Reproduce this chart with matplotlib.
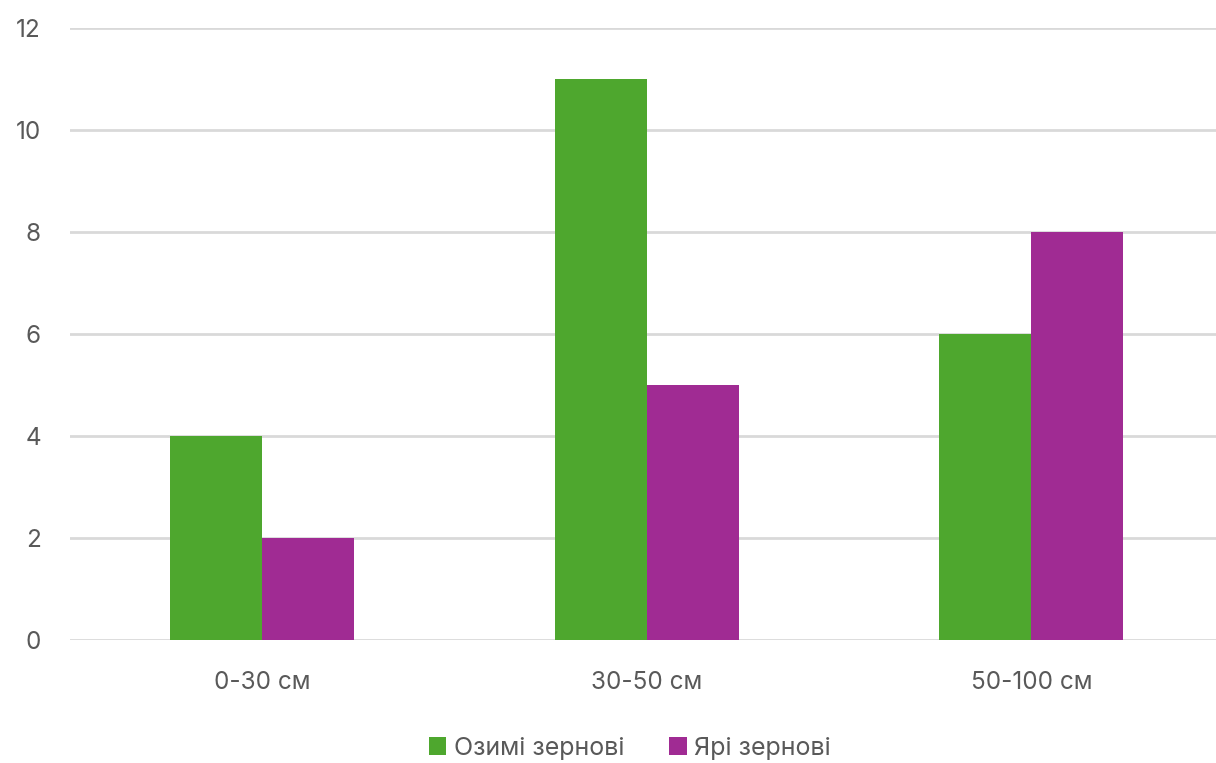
import matplotlib
matplotlib.use("Agg")
import matplotlib.pyplot as plt
import numpy as np

categories = ["0-30 см", "30-50 см", "50-100 см"]
winter = [4, 11, 6]
spring = [2, 5, 8]
series_names = ["Озимі зернові", "Ярі зернові"]
colors = ["#4EA72E", "#A02B93"]
yticks = [0, 2, 4, 6, 8, 10, 12]

plt.rcParams['font.family'] = ['Inter', 'DejaVu Sans']

fig = plt.figure(figsize=(12.16, 7.63), dpi=100)
ax = fig.add_axes([70 / 1216, 123 / 763, 1146 / 1216, 612 / 763])

x = np.arange(len(categories))
w = 0.239
ax.bar(x - w / 2, winter, width=w, color=colors[0], label=series_names[0], zorder=3)
ax.bar(x + w / 2, spring, width=w, color=colors[1], label=series_names[1], zorder=3)

ax.set_xlim(-0.5, 2.48)
ax.set_ylim(0, 12)
ax.set_yticks(yticks)
ax.set_xticks(x)
ax.set_xticklabels(categories)
ax.yaxis.grid(True, color="#D9D9D9", linewidth=2.0, zorder=0)
ax.set_axisbelow(True)
for s in ax.spines.values():
    s.set_visible(False)
ax.tick_params(axis="both", length=0, labelsize=17.5, labelcolor="#595959")
ax.tick_params(axis="y", pad=21)
ax.tick_params(axis="x", pad=22)

leg = fig.legend(loc="center", bbox_to_anchor=(630 / 1216, 1 - 748 / 763), ncol=2,
                 frameon=False, fontsize=18, handlelength=0.7, handleheight=0.7,
                 handletextpad=0.3, columnspacing=1.8, labelcolor="#595959")

fig.savefig("out.png", dpi=100)
